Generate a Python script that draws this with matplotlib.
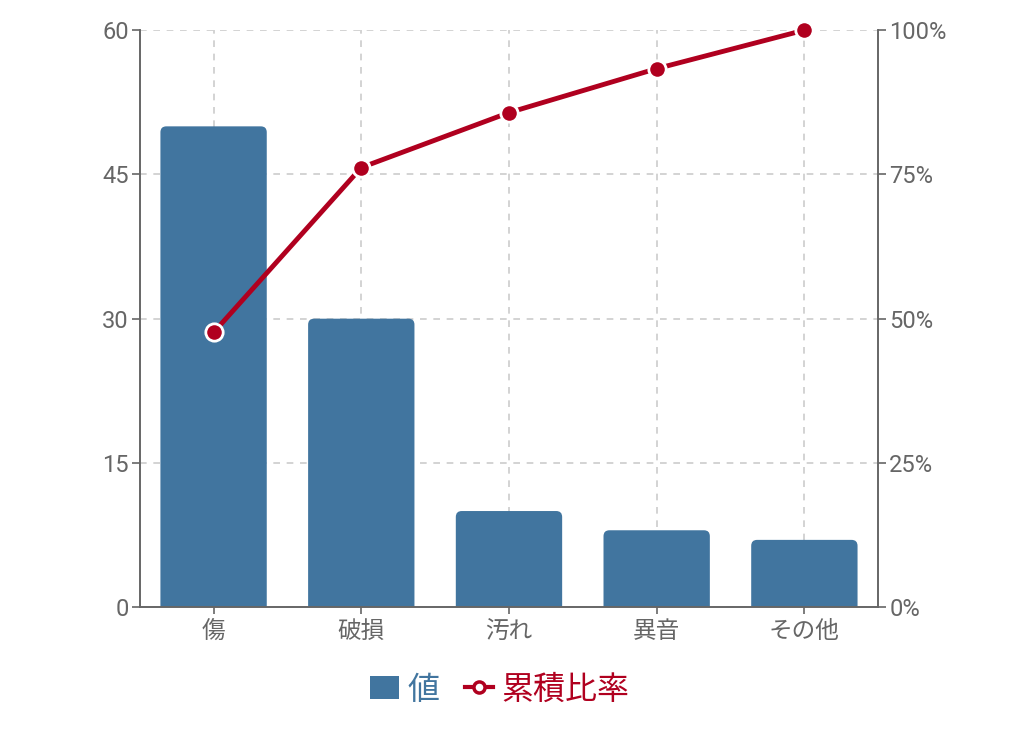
import matplotlib
matplotlib.use('Agg')
import numpy as np
import matplotlib.pyplot as plt
from matplotlib.patches import FancyBboxPatch, Patch
from matplotlib.lines import Line2D

plt.rcParams['font.family'] = ['Roboto', 'Noto Sans CJK JP', 'DejaVu Sans']

categories = ['傷', '破損', '汚れ', '異音', 'その他']
values = [50, 30, 10, 8, 7]
left_ticks = [0, 15, 30, 45, 60]
right_ticks = [0, 0.25, 0.5, 0.75, 1.0]
right_labels = ['0%', '25%', '50%', '75%', '100%']

bar_color = '#41759f'
line_color = '#b0001f'
grey = '#666666'

cum = np.cumsum(values) / np.sum(values)
x = np.arange(len(categories))

fig = plt.figure(figsize=(10.2, 7.36), dpi=100)
ax = fig.add_axes([0.137, 0.175, 0.724, 0.784])

bars = ax.bar(x, values, width=0.72, color=bar_color)
# swap plain bars for ones with rounded top corners
for b in bars:
    bx, bw, bh = b.get_x(), b.get_width(), b.get_height()
    p = FancyBboxPatch((bx, -3), bw, bh + 3,
                       boxstyle='round,pad=0,rounding_size=0.04',
                       mutation_aspect=15.5, facecolor=bar_color,
                       edgecolor='none', zorder=2)
    ax.add_patch(p)
    b.remove()

ax.set_xlim(-0.5, 4.5)
ax.set_ylim(0, 60)
ax.set_xticks(x)
ax.set_xticklabels(categories)
ax.set_yticks(left_ticks)
ax.set_axisbelow(True)
ax.grid(True, color='#cccccc', linestyle=(0, (4, 4)), linewidth=1.2)

ax2 = ax.twinx()
ax2.set_ylim(0, 1)
ax2.set_yticks(right_ticks)
ax2.set_yticklabels(right_labels)
ax2.plot(x, cum, color=line_color, linewidth=3.5, marker='o', markersize=12.5,
         markerfacecolor=line_color, markeredgecolor='white',
         markeredgewidth=2, zorder=3, clip_on=False)

for a in (ax, ax2):
    a.spines['top'].set_visible(False)
    for s in ('left', 'right', 'bottom'):
        a.spines[s].set_color(grey)
        a.spines[s].set_linewidth(1.2)
    a.tick_params(colors=grey, labelsize=17, length=6, width=1.2)
ax.tick_params(axis='x', length=5, pad=4, labelsize=17)
ax.tick_params(axis='y', pad=2)
ax2.tick_params(axis='y', pad=2)

handles = [Patch(facecolor=bar_color, edgecolor='none'),
           Line2D([0], [0], color=line_color, linewidth=3, marker='o',
                  markersize=8, markerfacecolor='white',
                  markeredgecolor=line_color, markeredgewidth=2.5)]
leg = fig.legend(handles, ['値', '累積比率'], loc='center',
                 bbox_to_anchor=(0.49, 0.063), ncol=2, frameon=False,
                 fontsize=23, handlelength=0.9, handleheight=0.75,
                 handletextpad=0.25, columnspacing=0.8)
for t, c in zip(leg.get_texts(), [bar_color, line_color]):
    t.set_color(c)

fig.savefig('out.png', dpi=100)
